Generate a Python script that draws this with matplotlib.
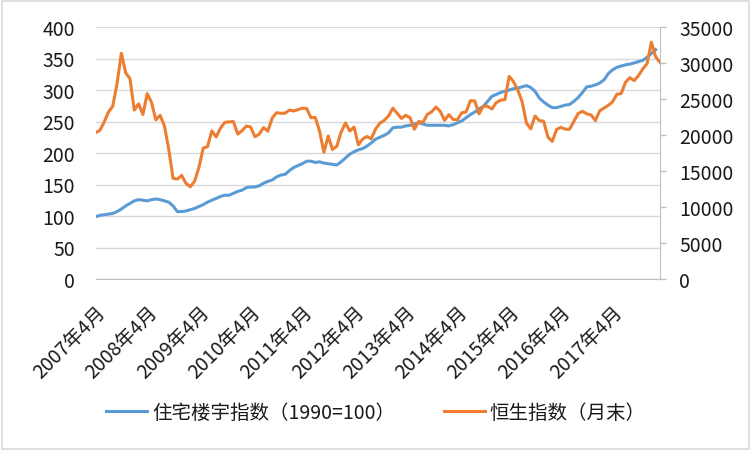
import matplotlib
matplotlib.use("Agg")
from matplotlib import pyplot as plt
from matplotlib.patches import Rectangle
import numpy as np

plt.rcParams['font.family'] = ['Noto Sans CJK SC', 'DejaVu Sans']

# monthly series from Apr 2007 (housing index stops at Feb 2018, HSI at Mar 2018)
housing_index = [
    99, 101, 102, 103, 104, 107, 111, 116, 120,          # 2007 Apr-Dec
    124, 126, 125, 124, 126, 127, 126, 124, 122, 116, 107, 107,   # 2008
    108, 110, 112, 115, 118, 122, 125, 128, 131, 133, 133, 136,   # 2009
    139, 141, 145, 146, 146, 148, 152, 155, 157, 162, 165, 166,   # 2010
    172, 177, 180, 183, 187, 187, 185, 186, 184, 183, 182, 181,   # 2011
    186, 192, 198, 202, 205, 207, 211, 216, 222, 225, 228, 232,   # 2012
    240, 241, 241, 243, 244, 246, 248, 246, 244, 244, 244, 244,   # 2013
    244, 243, 245, 248, 251, 256, 261, 265, 270, 274, 282, 290,   # 2014
    293, 296, 298, 300, 302, 303, 305, 307, 304, 298, 287, 281,   # 2015
    276, 272, 272, 274, 276, 277, 282, 288, 296, 305, 306, 308,   # 2016
    311, 316, 326, 332, 336, 338, 340, 341, 343, 345, 347, 352,   # 2017
    358, 364,                                                # 2018 Jan-Feb
]
hsi = [
    20319, 20634, 21773, 23184, 23984, 27143, 31352, 28643, 27813,
    23456, 24332, 22849, 25755, 24533, 22102, 22731, 21262, 18016, 13969, 13888, 14387,
    13278, 12812, 13576, 15521, 18171, 18379, 20573, 19724, 20955, 21753, 21822, 21873,
    20122, 20609, 21239, 21108, 19765, 20129, 21030, 20537, 22359, 23096, 23008, 23035,
    23447, 23338, 23528, 23721, 23684, 22398, 22440, 20535, 17592, 19864, 17989, 18434,
    20390, 21680, 20556, 21094, 18630, 19441, 19797, 19483, 20840, 21642, 22030, 22657,
    23730, 23020, 22300, 22737, 22392, 20803, 21884, 21731, 22860, 23206, 23881, 23306,
    22035, 22837, 22151, 22134, 23082, 23191, 24757, 24742, 22933, 23998, 23987, 23605,
    24507, 24823, 24901, 28133, 27424, 26250, 24636, 21671, 20846, 22640, 21996, 21914,
    19683, 19112, 20777, 21067, 20815, 20794, 21891, 22977, 23297, 22935, 22790, 22001,
    23361, 23741, 24112, 24615, 25661, 25765, 27324, 27970, 27554, 28246, 29177, 29919,
    32887, 30845, 30093,
]
tick_labels = ['%d年4月' % y for y in range(2007, 2018)]
legend_names = ['住宅楼宇指数（1990=100）', '恒生指数（月末）']

x = np.arange(len(hsi))
grid_c = '#d9d9d9'
axis_c = '#bfbfbf'
text_c = '#1a1a1a'
fs = 14

fig = plt.figure(figsize=(7.52, 4.52), dpi=100)
ax = fig.add_axes([95.5 / 752, 1 - 280 / 452, (660 - 95.5) / 752, 252 / 452])
ax2 = ax.twinx()

line1, = ax.plot(x[:len(housing_index)], housing_index, color='#5B9BD5', lw=2.2,
                 solid_joinstyle='round')
line2, = ax2.plot(x, hsi, color='#ED7D31', lw=2.2, solid_joinstyle='round')

ax.set_xlim(0, len(hsi) - 1)
ax.set_ylim(0, 400)
ax.set_yticks(np.arange(0, 401, 50))
ax2.set_ylim(0, 35000)
ax2.set_yticks(np.arange(0, 35001, 5000))

ax.yaxis.grid(True, color=grid_c, lw=1.0)
ax.set_axisbelow(True)

ax.set_xticks(x[::12])
ax.set_xticklabels(tick_labels, rotation=45, ha='right', va='top',
                   rotation_mode='anchor', fontsize=fs, color=text_c)
ax.tick_params(axis='x', length=0, pad=16)
ax.tick_params(axis='y', length=0, pad=15, labelsize=fs, labelcolor=text_c)
ax2.tick_params(axis='y', length=4, color=axis_c, width=1, pad=10,
                labelsize=fs, labelcolor=text_c)

for side in ['left', 'top', 'right']:
    ax.spines[side].set_visible(False)
ax.spines['bottom'].set_color(axis_c)
for side in ['left', 'top', 'bottom']:
    ax2.spines[side].set_visible(False)
ax2.spines['right'].set_color(axis_c)

fig.legend([line1, line2], legend_names, loc='center', bbox_to_anchor=(0.5, 1 - 413 / 452),
           ncol=2, frameon=False, fontsize=fs, handlelength=2.1, handletextpad=0.25,
           columnspacing=2.5, labelcolor=text_c)

fig.patches.append(Rectangle((0.003, 0.004), 0.993, 0.992, transform=fig.transFigure,
                             fill=False, edgecolor=grid_c, lw=1.2))

fig.savefig('out.png', dpi=100)
